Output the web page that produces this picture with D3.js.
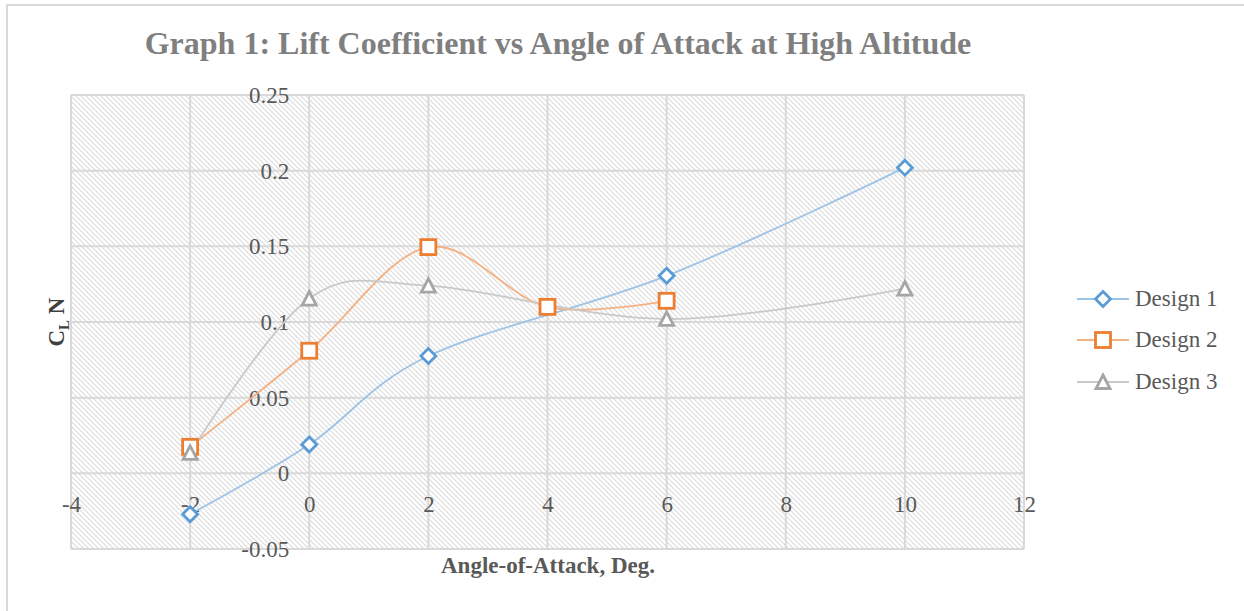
<!DOCTYPE html>
<html><head><meta charset="utf-8">
<script src="https://cdn.jsdelivr.net/npm/d3@7"></script>
<style>body{margin:0;background:#fff;}svg{display:block;}</style>
</head><body>
<script>
const xValues1 = [-2, 0, 2, 6, 10];
const design1 = [-0.027, 0.019, 0.0775, 0.1305, 0.202];
const xValues2 = [-2, 0, 2, 4, 6];
const design2 = [0.0175, 0.081, 0.1495, 0.110, 0.114];
const xValues3 = [-2, 0, 2, 6, 10];
const design3 = [0.0135, 0.1155, 0.124, 0.102, 0.122];
const seriesNames = ["Design 1", "Design 2", "Design 3"];
const xTicks = [-4, -2, 0, 2, 4, 6, 8, 10, 12];
const yTicks = [-0.05, 0, 0.05, 0.1, 0.15, 0.2, 0.25];
const yTickLabels = ["-0.05", "0", "0.05", "0.1", "0.15", "0.2", "0.25"];

const W = 1244, H = 611;
const svg = d3.select("body").append("svg").attr("width", W).attr("height", H);
const font = "'Liberation Serif','Times New Roman',serif";

// chart border (top & left visible)
svg.append("path").attr("d", `M7,${H+5} L7,5 L${W+5},5`).attr("fill","none").attr("stroke","#d9d9d9").attr("stroke-width",2);

const L = 71, R = 1024, T = 95, B = 549;
const x = d3.scaleLinear().domain([-4, 12]).range([L, R]);
const y = d3.scaleLinear().domain([-0.05, 0.25]).range([B, T]);

const defs = svg.append("defs");
const pat = defs.append("pattern").attr("id","hatch").attr("patternUnits","userSpaceOnUse")
  .attr("width",5).attr("height",5);
pat.append("rect").attr("width",5).attr("height",5).attr("fill","#fff");
pat.append("path").attr("d","M-1,-1 L6,6 M-1,4 L1,6 M4,-1 L6,1").attr("stroke","#dcdcdc").attr("stroke-width",1.1);

svg.append("rect").attr("x",L).attr("y",T).attr("width",R-L).attr("height",B-T).attr("fill","url(#hatch)");

// gridlines
const grid = svg.append("g").attr("stroke","#d9d9d9").attr("stroke-width",2);
xTicks.forEach(t => grid.append("line").attr("x1",x(t)).attr("x2",x(t)).attr("y1",T).attr("y2",B));
yTicks.forEach(t => grid.append("line").attr("x1",L).attr("x2",R).attr("y1",y(t)).attr("y2",y(t)));

// title
svg.append("text").attr("x",558).attr("y",54).attr("text-anchor","middle")
  .attr("font-family",font).attr("font-weight","bold").attr("font-size",32).attr("fill","#7f7f7f")
  .text("Graph 1: Lift Coefficient vs Angle of Attack at High Altitude");

// axis tick labels
const tickCol = "#595959";
const yAxis = d3.axisLeft(y).tickValues(yTicks).tickFormat(d=>yTickLabels[yTicks.indexOf(d)]).tickSize(0).tickPadding(20);
const gy = svg.append("g").attr("transform",`translate(${x(0)},0)`).call(yAxis);
gy.select(".domain").remove();
gy.selectAll("text").attr("font-family",font).attr("font-size",23).attr("fill",tickCol);

const xAxis = d3.axisBottom(x).tickValues(xTicks).tickFormat(d3.format("d")).tickSize(0).tickPadding(22);
const gx = svg.append("g").attr("transform",`translate(0,${y(0)})`).call(xAxis);
gx.select(".domain").remove();
gx.selectAll("text").attr("font-family",font).attr("font-size",23).attr("fill",tickCol)
  .text(d => d < 0 ? "-" + Math.abs(d) : d);

// axis titles
svg.append("text").attr("x",548).attr("y",573).attr("text-anchor","middle")
  .attr("font-family",font).attr("font-weight","bold").attr("font-size",23).attr("fill","#595959")
  .text("Angle-of-Attack, Deg.");
const yt = svg.append("text").attr("transform",`translate(64,${322}) rotate(-90)`).attr("text-anchor","middle")
  .attr("font-family",font).attr("font-weight","bold").attr("font-size",23).attr("fill","#404040");
yt.append("tspan").text("C");
yt.append("tspan").attr("font-size",15).attr("dy",5).text("L");
yt.append("tspan").attr("dy",-5).text(" N");

// series
const colors = ["#5b9bd5", "#ed7d31", "#a5a5a5"];
const lineColors = ["#9dc3e6", "#f4b183", "#c9c9c9"];
const data = [
  xValues1.map((v,i)=>[v, design1[i]]),
  xValues2.map((v,i)=>[v, design2[i]]),
  xValues3.map((v,i)=>[v, design3[i]])
];
const line = d3.line().x(d=>x(d[0])).y(d=>y(d[1])).curve(d3.curveCardinal.tension(0));

function marker(g, k, cx, cy) {
  if (k === 0) {
    g.append("path").attr("d",`M${cx},${cy-7.5} L${cx+7.5},${cy} L${cx},${cy+7.5} L${cx-7.5},${cy} Z`)
      .attr("fill","#fff").attr("stroke",colors[0]).attr("stroke-width",2.8);
  } else if (k === 1) {
    g.append("rect").attr("x",cx-7.5).attr("y",cy-7.5).attr("width",15).attr("height",15)
      .attr("fill","#fff").attr("stroke",colors[1]).attr("stroke-width",2.8);
  } else {
    g.append("path").attr("d",`M${cx},${cy-7} L${cx+7},${cy+6.5} L${cx-7},${cy+6.5} Z`)
      .attr("fill","#fff").attr("stroke",colors[2]).attr("stroke-width",2.8);
  }
}

data.forEach((d,k)=>{
  svg.append("path").datum(d).attr("d",line).attr("fill","none").attr("stroke",lineColors[k]).attr("stroke-width",1.8);
});
data.forEach((d,k)=>{
  const g = svg.append("g");
  d.forEach(p => marker(g, k, x(p[0]), y(p[1])));
});

// legend
const legY = [299, 340, 382];
seriesNames.forEach((name,k)=>{
  const g = svg.append("g");
  g.append("line").attr("x1",1077).attr("x2",1129).attr("y1",legY[k]).attr("y2",legY[k])
    .attr("stroke",lineColors[k]).attr("stroke-width",1.8);
  marker(g, k, 1103, legY[k]);
  g.append("text").attr("x",1135).attr("y",legY[k]+7).attr("font-family",font).attr("font-size",23)
    .attr("fill","#595959").text(name);
});
</script>
</body></html>
